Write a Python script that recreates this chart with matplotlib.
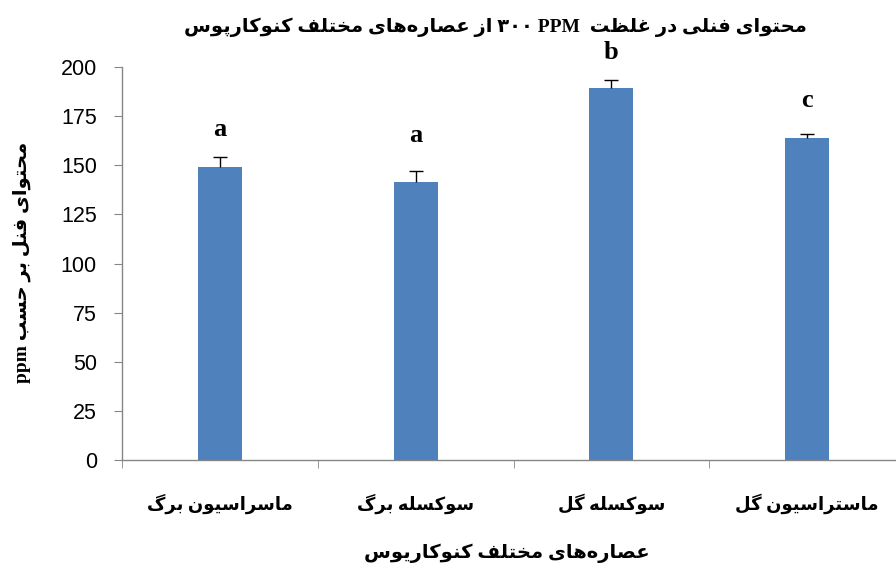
import matplotlib
matplotlib.use('Agg')
from matplotlib import pyplot as plt
from matplotlib.ticker import FixedLocator

# Data
categories = ['ماسراسیون برگ', 'سوکسله برگ', 'سوکسله گل', 'ماستراسیون گل']
values = [149.3, 141.5, 189.2, 163.9]
errors = [5.0, 5.5, 4.0, 2.0]
letters = ['a', 'a', 'b', 'c']
letter_y = [168, 165, 207.5, 183]
title = 'محتوای فنلی در غلظت  PPM ۳۰۰ از عصاره‌های مختلف کنوکارپوس'
xlabel = 'عصاره‌های مختلف کنوکاریوس'
ylabel = 'محتوای فنل بر حسب ppm'
yticks = [0, 25, 50, 75, 100, 125, 150, 175, 200]

# Arabic presentation forms: isolated, final, initial, medial
FORMS = {
    'ا': (0xFE8D, 0xFE8E), 'ب': (0xFE8F, 0xFE90, 0xFE91, 0xFE92),
    'ت': (0xFE95, 0xFE96, 0xFE97, 0xFE98), 'ح': (0xFEA1, 0xFEA2, 0xFEA3, 0xFEA4),
    'خ': (0xFEA5, 0xFEA6, 0xFEA7, 0xFEA8), 'د': (0xFEA9, 0xFEAA),
    'ر': (0xFEAD, 0xFEAE), 'ز': (0xFEAF, 0xFEB0),
    'س': (0xFEB1, 0xFEB2, 0xFEB3, 0xFEB4), 'ص': (0xFEB9, 0xFEBA, 0xFEBB, 0xFEBC),
    'ظ': (0xFEC5, 0xFEC6, 0xFEC7, 0xFEC8), 'ع': (0xFEC9, 0xFECA, 0xFECB, 0xFECC),
    'غ': (0xFECD, 0xFECE, 0xFECF, 0xFED0), 'ف': (0xFED1, 0xFED2, 0xFED3, 0xFED4),
    'ل': (0xFEDD, 0xFEDE, 0xFEDF, 0xFEE0), 'م': (0xFEE1, 0xFEE2, 0xFEE3, 0xFEE4),
    'ن': (0xFEE5, 0xFEE6, 0xFEE7, 0xFEE8), 'ه': (0xFEE9, 0xFEEA, 0xFEEB, 0xFEEC),
    'و': (0xFEED, 0xFEEE), 'پ': (0xFB56, 0xFB57, 0xFB58, 0xFB59),
    'ک': (0xFB8E, 0xFB8F, 0xFB90, 0xFB91), 'گ': (0xFB92, 0xFB93, 0xFB94, 0xFB95),
    'ی': (0xFBFC, 0xFBFD, 0xFBFE, 0xFBFF),
}


def shape(word):
    out = []
    for i, ch in enumerate(word):
        if ch not in FORMS:
            out.append(ch)
            continue
        f = FORMS[ch]
        prev = word[i - 1] if i > 0 else None
        nxt = word[i + 1] if i + 1 < len(word) else None
        jp = prev in FORMS and len(FORMS[prev]) == 4
        jn = len(f) == 4 and nxt in FORMS
        if jp and jn:
            g = f[3]
        elif jp:
            g = f[1]
        elif jn:
            g = f[2]
        else:
            g = f[0]
        out.append(chr(g))
    return ''.join(c for c in out if c != '\u200c')


def rtl(text):
    vis = []
    for t in reversed(text.split(' ')):
        if any(c in FORMS for c in t):
            vis.append(shape(t)[::-1])
        else:
            vis.append(t)
    return ' '.join(vis)


fam = ['Liberation Serif', 'DejaVu Sans']
gray = '#868686'

fig = plt.figure(figsize=(8.96, 5.69), dpi=100, facecolor='white')
ax = fig.add_axes([122 / 896, 1 - 460 / 569, (905 - 122) / 896, (460 - 67) / 569])

x = list(range(len(categories)))
ax.bar(x, values, width=0.225, color='#4F81BD', zorder=2)
eb = ax.errorbar(x, values, yerr=[[0] * len(errors), errors], fmt='none', ecolor='black',
                 elinewidth=1, capsize=5, capthick=1, zorder=3)
eb[1][0].set_visible(False)  # only the upper cap
for xi, lt, ly in zip(x, letters, letter_y):
    ax.text(xi, ly, lt, ha='center', va='center', fontsize=19, fontweight='bold',
            family='Liberation Serif', clip_on=False)

ax.set_xlim(-0.5, len(categories) - 0.5)
ax.set_ylim(0, 200)
ax.set_yticks(yticks)
ax.set_yticklabels([str(v) for v in yticks], family='Liberation Sans', fontsize=15.5)
ax.tick_params(axis='y', direction='out', length=6, color=gray, pad=12)

ax.set_xticks(x)
ax.set_xticklabels([rtl(c) for c in categories], family=fam, fontweight='bold', fontsize=13)
ax.tick_params(axis='x', which='major', length=0, pad=24)
ax.xaxis.set_minor_locator(FixedLocator([i - 0.5 for i in range(len(categories) + 1)]))
ax.tick_params(axis='x', which='minor', direction='out', length=6, color=gray)

for s in ['top', 'right']:
    ax.spines[s].set_visible(False)
for s in ['left', 'bottom']:
    ax.spines[s].set_color(gray)
    ax.spines[s].set_linewidth(1)

fig.text(495 / 896, 1 - 27 / 569, rtl(title), ha='center', va='center',
         family=fam, fontweight='bold', fontsize=14)
fig.text(507 / 896, 1 - 553 / 569, rtl(xlabel), ha='center', va='center',
         family=fam, fontweight='bold', fontsize=14)
fig.text(22 / 896, 1 - 262 / 569, rtl(ylabel), ha='center', va='center', rotation=90,
         family=fam, fontweight='bold', fontsize=14)

fig.savefig('out.png', dpi=100, facecolor='white')
